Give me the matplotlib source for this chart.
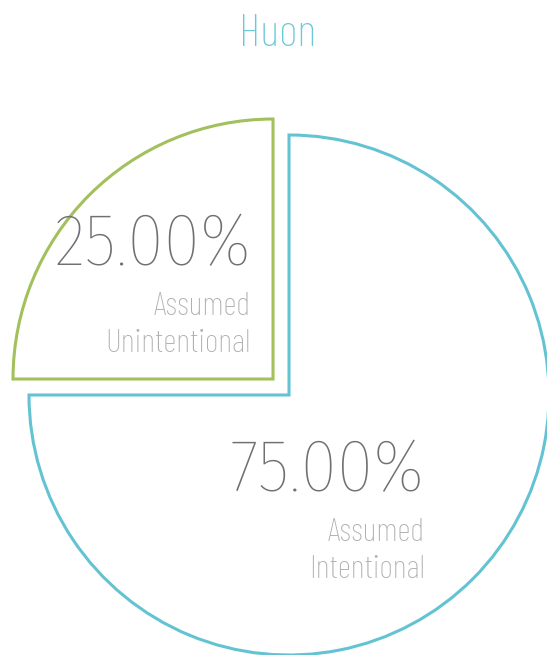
import matplotlib
matplotlib.use('Agg')
import matplotlib.pyplot as plt

# pie values (percent)
labels = ['Assumed\nUnintentional', 'Assumed\nIntentional']
values = [25.0, 75.0]
colors = ['#a2c05c', '#63c3d3']
explode = [22.6, 0.0]   # pie() adds this straight onto the centre, so it's in data units
title = 'Huon'

num_font = ['Fira Sans Condensed', 'Roboto']
lab_font = ['Barlow Condensed', 'Roboto']

fig = plt.figure(figsize=(5.47, 6.55), dpi=100)
ax = fig.add_axes([0, 0, 1, 1])

wedges, _ = ax.pie(values, colors=['white', 'white'], explode=explode,
                   startangle=90, counterclock=True, center=(289, 260),
                   radius=260, frame=True,
                   wedgeprops=dict(linewidth=2.2, joinstyle='miter'))
for w, c in zip(wedges, colors):
    w.set_edgecolor(c)
ax.set_xlim(0, 547)
ax.set_ylim(0, 655)
ax.set_aspect('equal')
ax.axis('off')

# percentage and label text, inside each wedge
ax.text(251, 390, '%.2f%%' % values[0], ha='right', va='baseline',
        fontsize=53, color='#707070', family=num_font, fontweight=200)
ax.text(251, 303, labels[0], ha='right', va='baseline', fontsize=24,
        color='#b0b0b0', family=lab_font, fontweight=200, linespacing=1.32)
ax.text(425, 164, '%.2f%%' % values[1], ha='right', va='baseline',
        fontsize=53, color='#707070', family=num_font, fontweight=200)
ax.text(425, 77, labels[1], ha='right', va='baseline', fontsize=24,
        color='#b0b0b0', family=lab_font, fontweight=200, linespacing=1.32)

ax.text(278, 609, title, ha='center', va='baseline', fontsize=33,
        color='#6cc8d8', family=lab_font, fontweight=200)

plt.savefig('out.png', dpi=100)
